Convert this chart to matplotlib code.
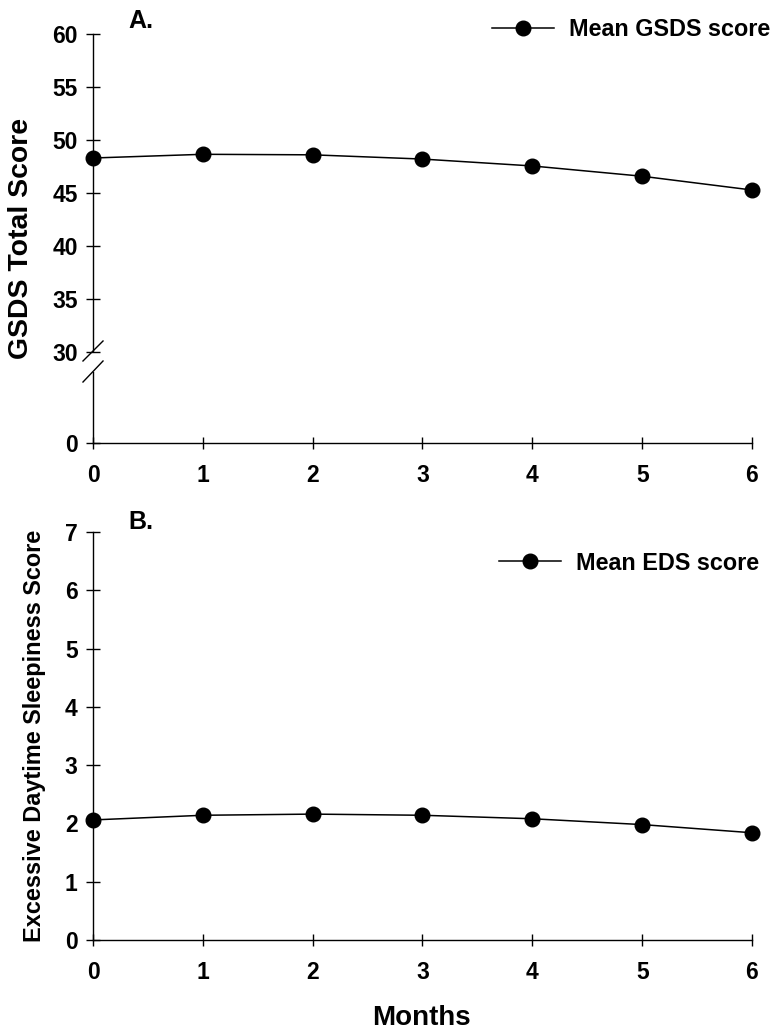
import numpy as np
import matplotlib
matplotlib.use("Agg")
import matplotlib.pyplot as plt
from matplotlib.lines import Line2D

plt.rcParams['font.family'] = ['Liberation Sans', 'DejaVu Sans']
plt.rcParams['font.weight'] = 'bold'

# ---- data ----
months = [0, 1, 2, 3, 4, 5, 6]
gsds_mean = [48.3, 48.65, 48.6, 48.2, 47.55, 46.58, 45.28]
eds_mean = [2.06, 2.14, 2.16, 2.14, 2.08, 1.98, 1.84]
gsds_yticks = [0, 30, 35, 40, 45, 50, 55, 60]
eds_yticks = [0, 1, 2, 3, 4, 5, 6, 7]
label_a = "Mean GSDS score"
label_b = "Mean EDS score"

W, H = 779, 1034
fig = plt.figure(figsize=(W / 100, H / 100), dpi=100)

def px_axes(left, right, top, bottom):
    return fig.add_axes([left / W, 1 - bottom / H, (right - left) / W, (bottom - top) / H])

R = 0.2863
def fwd(y):
    y = np.asarray(y, float)
    return np.where(y >= 30, y, 30 - (30 - y) * R)
def inv(t):
    t = np.asarray(t, float)
    return np.where(t >= 30, t, 30 - (30 - t) / R)

axA = px_axes(93, 752, 34, 443)
axB = px_axes(93, 752, 532, 940)

for ax in (axA, axB):
    ax.spines['top'].set_visible(False)
    ax.spines['right'].set_visible(False)
    ax.spines['left'].set_linewidth(1.0)
    ax.spines['bottom'].set_linewidth(1.0)
    ax.set_xlim(0, 6)
    ax.set_xticks(months)
    ax.tick_params(axis='y', direction='inout', length=10, width=1.0, pad=6, labelsize=16.5)
    ax.tick_params(axis='x', direction='inout', length=8, width=1.0, pad=11, labelsize=16.5)

# Panel A
axA.set_yscale('function', functions=(fwd, inv))
axA.set_ylim(0, 60)
axA.set_yticks(gsds_yticks)
axA.set_yticklabels([str(v) for v in gsds_yticks], fontweight='bold')
axA.minorticks_off()
axA.plot(months, gsds_mean, color='black', lw=1.1, marker='o', markersize=10.5,
         clip_on=False, zorder=5, label=label_a)
axA.spines['left'].set_visible(False)
tr = axA.transAxes
axA.add_line(Line2D([0, 0], [0, 0.174], transform=tr, color='black', lw=1.0, clip_on=False))
axA.add_line(Line2D([0, 0], [0.225, 1.0], transform=tr, color='black', lw=1.0, clip_on=False))
axA.add_line(Line2D([-0.0152, 0.0152], [0.2005, 0.2494], transform=tr, color='black', lw=1.0, clip_on=False))
axA.add_line(Line2D([-0.0152, 0.0152], [0.1491, 0.2005], transform=tr, color='black', lw=1.0, clip_on=False))

# Panel B
axB.set_ylim(0, 7)
axB.set_yticks(eds_yticks)
axB.set_yticklabels([str(v) for v in eds_yticks], fontweight='bold')
axB.plot(months, eds_mean, color='black', lw=1.1, marker='o', markersize=10.5,
         clip_on=False, zorder=5, label=label_b)

for ax in (axA, axB):
    for lab in ax.get_xticklabels() + ax.get_yticklabels():
        lab.set_fontweight('bold')

# Legends
for ax, (xr, yc) in ((axA, (770, 30)), (axB, (759, 563))):
    ax.legend(loc='center right', bbox_to_anchor=(xr / W, 1 - yc / H),
              bbox_transform=fig.transFigure, frameon=False, borderpad=0,
              borderaxespad=0, handlelength=2.65, handletextpad=0.65,
              prop={'size': 16.8, 'weight': 'bold'})

# Labels
fig.text(21 / W, 1 - 238 / H, "GSDS Total Score", rotation=90, ha='center', va='center',
         fontsize=20.4, fontweight='bold')
fig.text(35 / W, 1 - 735.5 / H, "Excessive Daytime Sleepiness Score", rotation=90,
         ha='center', va='center', fontsize=16.9, fontweight='bold')
fig.text(421 / W, 1 - 1025 / H, "Months", ha='center', va='baseline',
         fontsize=20, fontweight='bold')
fig.text(128 / W, 1 - 28 / H, "A.", ha='left', va='baseline', fontsize=18, fontweight='bold')
fig.text(128 / W, 1 - 529 / H, "B.", ha='left', va='baseline', fontsize=18, fontweight='bold')

fig.savefig("out.png", dpi=100, facecolor='white')
